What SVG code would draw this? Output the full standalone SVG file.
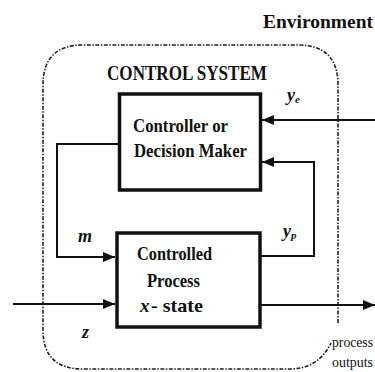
<svg xmlns="http://www.w3.org/2000/svg" width="375" height="372" viewBox="0 0 375 372">
<style>
text{font-family:'Liberation Serif','Times New Roman',serif;fill:#111}
.b{font-weight:bold}
.i{font-style:italic}
.box{fill:#fff;stroke:#111;stroke-width:3.5}
.ln{fill:none;stroke:#111;stroke-width:2}
.env{fill:none;stroke:#222;stroke-width:1.6;stroke-dasharray:4 1.5 1.5 1.5}
</style>
<defs>
<marker id="ah" viewBox="0 0 12 10" refX="12" refY="5" markerWidth="12" markerHeight="10" markerUnits="userSpaceOnUse" orient="auto">
<path d="M0,0 L12,5 L0,10 Z" fill="#111"/>
</marker>
</defs>
<rect width="375" height="372" fill="#fff"/>
<g id="environment">
<text class="b" x="263" y="28" font-size="19" textLength="110" lengthAdjust="spacingAndGlyphs">Environment</text>
</g>
<g id="control-system">
<path class="env" d="M338,323 L338,85 Q338,45 298,45 L83,45 Q43,45 43,85 L43,330 Q43,369 83,369 L290,369 Q318,369 331,343"/>
<text class="b" x="107" y="80" font-size="20" textLength="160" lengthAdjust="spacingAndGlyphs">CONTROL SYSTEM</text>
</g>
<g id="controller">
<rect class="box" x="119.5" y="94" width="141" height="96"/>
<text class="b" x="133" y="132" font-size="19" textLength="95" lengthAdjust="spacingAndGlyphs">Controller or</text>
<text class="b" x="134" y="157" font-size="19" textLength="113" lengthAdjust="spacingAndGlyphs">Decision Maker</text>
</g>
<g id="process">
<rect class="box" x="117" y="233" width="143" height="94"/>
<text class="b" x="137" y="260" font-size="19" textLength="75" lengthAdjust="spacingAndGlyphs">Controlled</text>
<text class="b" x="147" y="287" font-size="19" textLength="53" lengthAdjust="spacingAndGlyphs">Process</text>
<text class="b i" x="140" y="312" font-size="19">x</text>
<text class="b" x="151" y="312" font-size="19" textLength="52" lengthAdjust="spacingAndGlyphs">-  state</text>
</g>
<g id="connectors">
<path class="ln" d="M119,144 L57,144 L57,257 L115,257" marker-end="url(#ah)"/>
<path class="ln" d="M375,120 L262,120" marker-end="url(#ah)"/>
<path class="ln" d="M260,256 L314,256 L314,162 L262,162" marker-end="url(#ah)"/>
<path class="ln" d="M13,304 L115,304" marker-end="url(#ah)"/>
<path class="ln" d="M260,305 L375,305" marker-end="url(#ah)"/>
</g>
<g id="labels">
<text class="b i" x="78" y="242" font-size="18">m</text>
<text class="b i" x="82" y="338" font-size="18">z</text>
<text class="b i" x="287" y="101" font-size="18">y<tspan font-size="11" dy="2">e</tspan></text>
<text class="b i" x="283" y="237" font-size="18">y<tspan font-size="11" dy="2">p</tspan></text>
<text x="332" y="347" font-size="14" textLength="41" lengthAdjust="spacingAndGlyphs">process</text>
<text x="332" y="367" font-size="14" textLength="41" lengthAdjust="spacingAndGlyphs">outputs</text>
</g>
</svg>
